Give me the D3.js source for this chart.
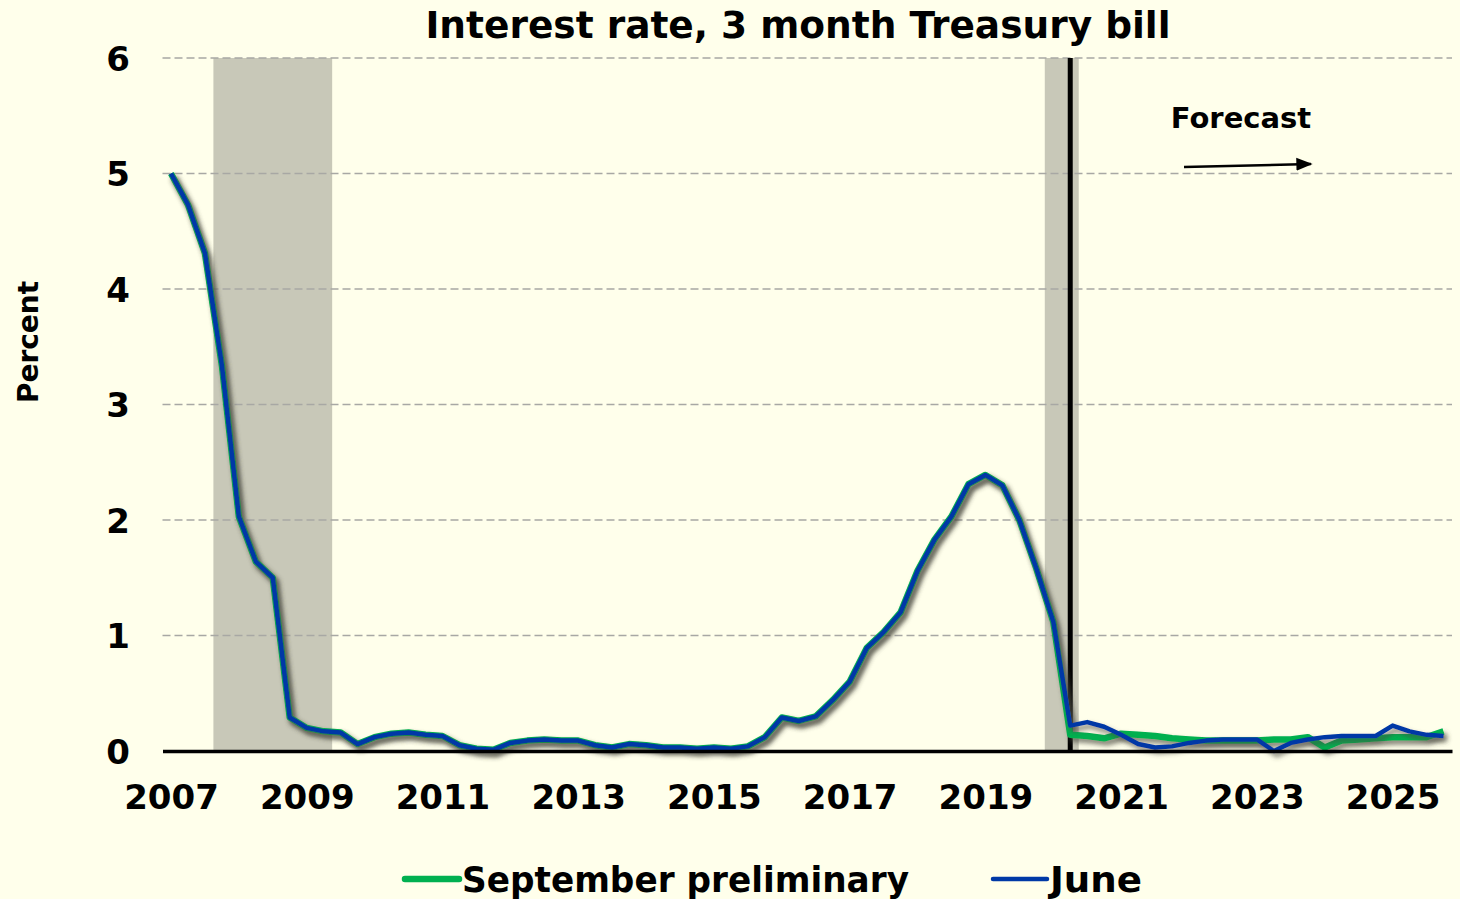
<!DOCTYPE html>
<html>
<head>
<meta charset="utf-8">
<script src="https://cdn.jsdelivr.net/npm/d3@7"></script>
<style>
  html, body { margin: 0; padding: 0; background: #FFFFEB; }
  svg { display: block; }
  text { font-family: "DejaVu Sans", Verdana, sans-serif; font-weight: bold; fill: #000; }
</style>
</head>
<body>
<div id="chart"></div>
<script>
// quarterly values, 2007Q1 .. 2020Q1 (same in both vintages)
var histRates = [
  5.00, 4.73, 4.31, 3.34,
  2.03, 1.64, 1.50, 0.29,
  0.20, 0.17, 0.16, 0.06,
  0.12, 0.15, 0.16, 0.14,
  0.13, 0.05, 0.02, 0.01,
  0.07, 0.09, 0.10, 0.09,
  0.09, 0.05, 0.03, 0.06,
  0.05, 0.03, 0.03, 0.02,
  0.03, 0.02, 0.04, 0.12,
  0.29, 0.26, 0.30, 0.44,
  0.60, 0.89, 1.03, 1.20,
  1.56, 1.83, 2.03, 2.31,
  2.39, 2.30, 2.00, 1.58,
  1.12
];
// 2020Q2 .. 2025Q4
var septForecast = [
  0.14, 0.13, 0.11, 0.15, 0.14, 0.13, 0.11, 0.10, 0.09, 0.09, 0.09, 0.09,
  0.10, 0.10, 0.12, 0.03, 0.09, 0.10, 0.11, 0.12, 0.12, 0.12, 0.17
];
var juneForecast = [
  0.22, 0.25, 0.21, 0.14, 0.06, 0.03, 0.04, 0.07, 0.09, 0.10, 0.10, 0.10,
  0.00, 0.07, 0.10, 0.12, 0.13, 0.13, 0.13, 0.22, 0.17, 0.14, 0.13
];
var startYear = 2007;
var yearTicks = [2007, 2009, 2011, 2013, 2015, 2017, 2019, 2021, 2023, 2025];
var yTicks = [0, 1, 2, 3, 4, 5, 6];
// recessions as [first quarter, last quarter]
var recessions = [[2007.75, 2009.25], [2020.0, 2020.25]];
var forecastStart = 2020.25;

var series = [
  { name: "September preliminary", color: "#00B050", width: 6.5, values: histRates.concat(septForecast) },
  { name: "June", color: "#0039A6", width: 4.5, values: histRates.concat(juneForecast) }
];

var width = 1460, height = 899;
var svg = d3.select("#chart").append("svg")
    .attr("width", width)
    .attr("height", height);

svg.append("rect").attr("width", width).attr("height", height).attr("fill", "#FFFFEB");

var defs = svg.append("defs");
var shadow = defs.append("filter").attr("id", "shadow")
    .attr("x", "-5%").attr("y", "-5%").attr("width", "110%").attr("height", "110%");
shadow.append("feDropShadow")
    .attr("dx", 3).attr("dy", 4).attr("stdDeviation", 2.5)
    .attr("flood-color", "#4a4a40").attr("flood-opacity", 0.7);

var nQ = series[0].values.length;
var x = d3.scaleLinear()
    .domain([startYear - 0.125, startYear + (nQ - 1) / 4 + 0.125])
    .range([162.5, 1452]);
var y = d3.scaleLinear().domain([0, 6]).range([751, 58]);

function qx(i) { return x(startYear + i / 4); }

// recession shading
svg.selectAll(".rec")
  .data(recessions)
  .enter().append("rect")
  .attr("class", "rec")
  .attr("x", function(d) { return x(d[0] - 0.125); })
  .attr("width", function(d) { return x(d[1] + 0.125) - x(d[0] - 0.125); })
  .attr("y", y(6))
  .attr("height", y(0) - y(6))
  .attr("fill", "#C8C8B8");

// grid
svg.selectAll(".grid")
  .data(yTicks.filter(function(d) { return d > 0; }))
  .enter().append("line")
  .attr("class", "grid")
  .attr("x1", x.range()[0]).attr("x2", x.range()[1])
  .attr("y1", function(d) { return y(d); })
  .attr("y2", function(d) { return y(d); })
  .attr("stroke", "#A8A8A4")
  .attr("stroke-width", 1.5)
  .attr("stroke-dasharray", "8,4");

// forecast divider
svg.append("line")
  .attr("x1", x(forecastStart)).attr("x2", x(forecastStart))
  .attr("y1", y(6)).attr("y2", y(0))
  .attr("stroke", "#000").attr("stroke-width", 5);

// series lines
var line = d3.line()
  .x(function(d, i) { return qx(i); })
  .y(function(d) { return y(d); });

svg.selectAll(".series")
  .data(series)
  .enter().append("path")
  .attr("class", "series")
  .attr("d", function(d) { return line(d.values); })
  .attr("fill", "none")
  .attr("stroke", function(d) { return d.color; })
  .attr("stroke-width", function(d) { return d.width; })
  .attr("stroke-linejoin", "round")
  .attr("filter", "url(#shadow)");

// x axis
var xAxis = svg.append("g")
  .attr("transform", "translate(0," + y(0) + ")")
  .call(d3.axisBottom(x).tickValues(yearTicks).tickFormat(d3.format("d")).tickSize(0).tickPadding(0));
xAxis.select(".domain").attr("stroke", "#000").attr("stroke-width", 3.5);
xAxis.selectAll("text")
  .attr("y", 58).attr("dy", null)
  .style("font-size", "34px")
  .style("font-family", "'DejaVu Sans', Verdana, sans-serif")
  .style("font-weight", "bold");

// y axis labels
var yAxis = svg.append("g")
  .attr("transform", "translate(130,0)")
  .call(d3.axisLeft(y).tickValues(yTicks).tickFormat(d3.format("d")).tickSize(0).tickPadding(0));
yAxis.select(".domain").remove();
yAxis.selectAll("text")
  .attr("dy", "0.36em")
  .style("font-size", "34px")
  .style("font-family", "'DejaVu Sans', Verdana, sans-serif")
  .style("font-weight", "bold");

// title
svg.append("text")
  .attr("x", 798).attr("y", 38)
  .attr("text-anchor", "middle")
  .style("font-size", "37.5px")
  .text("Interest rate, 3 month Treasury bill");

// y label
svg.append("text")
  .attr("transform", "translate(38,342) rotate(-90)")
  .attr("text-anchor", "middle")
  .style("font-size", "28px")
  .text("Percent");

// forecast note
svg.append("text")
  .attr("x", 1241).attr("y", 128)
  .attr("text-anchor", "middle")
  .style("font-size", "29px")
  .text("Forecast");

defs.append("marker").attr("id", "arrow")
  .attr("viewBox", "0 0 10 10").attr("refX", 9).attr("refY", 5)
  .attr("markerWidth", 6.5).attr("markerHeight", 6.5).attr("orient", "auto")
  .append("path").attr("d", "M0,1 L10,5 L0,9 Z").attr("fill", "#000");
svg.append("line")
  .attr("x1", 1184).attr("y1", 167).attr("x2", 1311).attr("y2", 164)
  .attr("stroke", "#000").attr("stroke-width", 2.5)
  .attr("marker-end", "url(#arrow)");

// legend
var legend = [
  { s: series[0], x: 405, w: 447 },
  { s: series[1], x: 993, w: 92 }
];
var lg = svg.selectAll(".legend")
  .data(legend)
  .enter().append("g")
  .attr("class", "legend")
  .attr("transform", function(d) { return "translate(" + d.x + ",879)"; });
lg.append("line")
  .attr("x1", 0).attr("x2", 54)
  .attr("stroke", function(d) { return d.s.color; })
  .attr("stroke-width", function(d) { return d.s.width; })
  .attr("stroke-linecap", "round");
lg.append("text")
  .attr("x", 57).attr("y", 13)
  .attr("textLength", function(d) { return d.w; })
  .attr("lengthAdjust", "spacingAndGlyphs")
  .style("font-size", "36px")
  .text(function(d) { return d.s.name; });
</script>
</body>
</html>
